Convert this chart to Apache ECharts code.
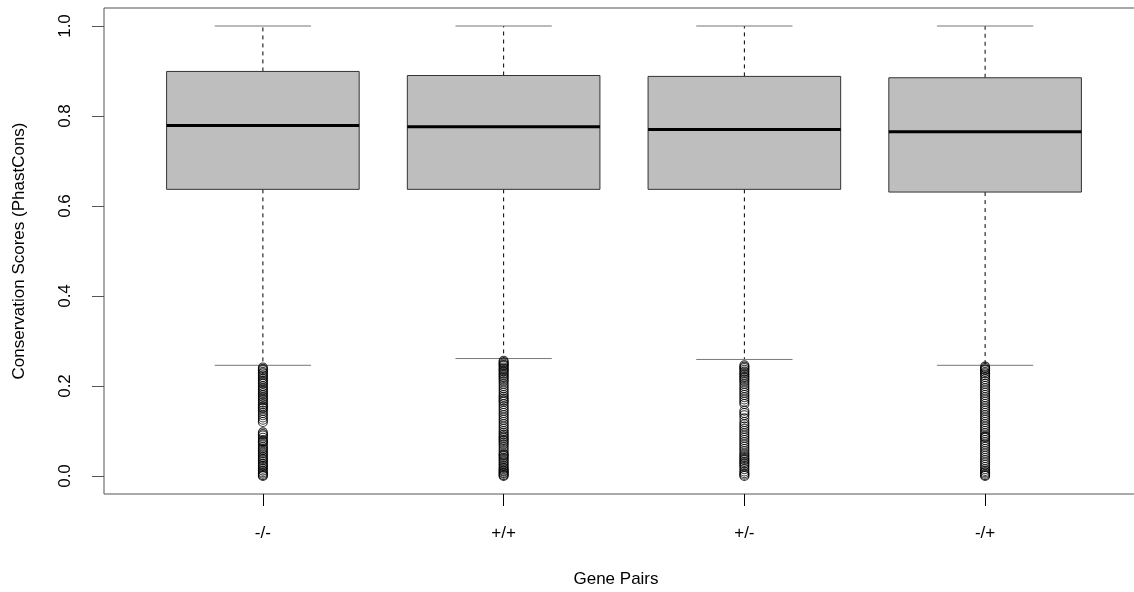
<!DOCTYPE html>
<html>
<head>
<meta charset="utf-8">
<script src="https://cdn.jsdelivr.net/npm/echarts@6/dist/echarts.min.js"></script>
<style>html,body{margin:0;padding:0;background:#fff;overflow:hidden;width:1134px;height:592px}#c{width:1144px;height:592px}</style>
</head>
<body>
<div id="c"></div>
<script>
// ---- data ----
const categories = ['-/-', '+/+', '+/-', '-/+'];
// [lower whisker, Q1, median, Q3, upper whisker]
const stats_mm = [0.246, 0.637, 0.779, 0.899, 1.0];
const stats_pp = [0.261, 0.637, 0.776, 0.890, 1.0];
const stats_pm = [0.259, 0.637, 0.770, 0.888, 1.0];
const stats_mp = [0.246, 0.631, 0.765, 0.885, 1.0];
const outliers_mm = [0.241,0.238,0.235,0.231,0.228,0.224,0.220,0.216,0.212,0.208,0.205,0.200,0.196,0.192,0.188,0.184,0.180,0.176,0.172,0.168,0.163,0.159,0.155,0.152,0.150,0.145,0.140,0.135,0.130,0.125,0.120,0.097,0.093,0.090,0.085,0.080,0.077,0.075,0.070,0.065,0.061,0.058,0.054,0.050,0.046,0.042,0.038,0.035,0.031,0.027,0.023,0.020,0.016,0.012,0.008,0.005,0.002,0.000];
const outliers_pp = [0.256,0.253,0.250,0.247,0.245,0.241,0.238,0.235,0.232,0.228,0.225,0.221,0.218,0.214,0.210,0.205,0.200,0.195,0.190,0.185,0.180,0.176,0.172,0.168,0.165,0.160,0.155,0.150,0.145,0.140,0.135,0.130,0.125,0.120,0.115,0.110,0.105,0.100,0.096,0.092,0.088,0.085,0.081,0.078,0.074,0.070,0.065,0.060,0.055,0.050,0.047,0.045,0.041,0.038,0.034,0.030,0.026,0.022,0.018,0.015,0.012,0.010,0.007,0.005,0.002,0.000];
const outliers_pm = [0.246,0.243,0.240,0.236,0.232,0.229,0.225,0.221,0.218,0.214,0.210,0.205,0.200,0.195,0.190,0.185,0.180,0.175,0.170,0.165,0.160,0.145,0.140,0.135,0.128,0.120,0.115,0.110,0.105,0.100,0.095,0.090,0.085,0.080,0.075,0.070,0.065,0.060,0.055,0.050,0.046,0.042,0.038,0.035,0.031,0.028,0.024,0.020,0.015,0.010,0.006,0.003,0.000];
const outliers_mp = [0.243,0.240,0.237,0.235,0.231,0.228,0.224,0.220,0.215,0.210,0.205,0.200,0.195,0.190,0.185,0.180,0.175,0.170,0.165,0.160,0.155,0.150,0.145,0.140,0.135,0.130,0.125,0.120,0.115,0.110,0.105,0.100,0.095,0.090,0.087,0.085,0.080,0.075,0.070,0.065,0.060,0.055,0.050,0.045,0.040,0.035,0.030,0.025,0.020,0.015,0.011,0.008,0.005,0.002,0.000];
const yTicks = [0, 0.2, 0.4, 0.6, 0.8, 1.0];
const xTicks = [1, 2, 3, 4];

const allStats = [stats_mm, stats_pp, stats_pm, stats_mp];
const allOut = [outliers_mm, outliers_pp, outliers_pm, outliers_mp];
const boxData = allStats.map((s, i) => [i + 1].concat(s));
const outData = [];
allOut.forEach((arr, i) => arr.forEach(v => outData.push([i + 1, v])));

const FONT = '"Liberation Sans", Arial, sans-serif';
const BOX_W = 0.8, CAP_W = 0.4;

const chart = echarts.init(document.getElementById('c'), null, {renderer: 'canvas'});
chart.setOption({
  animation: false,
  backgroundColor: '#fff',
  grid: {left: 104, top: 8, right: 0, bottom: 98, show: true, borderColor: '#555', borderWidth: 1, backgroundColor: 'transparent', containLabel: false, outerBoundsMode: 'none'},
  xAxis: {
    type: 'value', min: 0.34, max: 4.66,
    name: 'Gene Pairs', nameLocation: 'middle', nameGap: 77,
    nameTextStyle: {fontFamily: FONT, fontSize: 17, color: '#000', padding: [0, 16, 0, 0]},
    axisLine: {show: false, onZero: false},
    splitLine: {show: false},
    axisTick: {show: true, customValues: xTicks, length: 12, inside: false, lineStyle: {color: '#000'}},
    axisLabel: {customValues: xTicks, formatter: v => categories[Math.round(v) - 1] || '', margin: 31,
      fontFamily: FONT, fontSize: 17, color: '#000'}
  },
  yAxis: {
    type: 'value', min: -0.04, max: 1.04,
    name: 'Conservation Scores (PhastCons)', nameLocation: 'middle', nameGap: 76,
    nameTextStyle: {fontFamily: FONT, fontSize: 17, color: '#000'},
    axisLine: {show: false, onZero: false},
    splitLine: {show: false},
    axisTick: {show: true, customValues: yTicks, length: 12, lineStyle: {color: '#555'}},
    axisLabel: {customValues: yTicks, formatter: v => v.toFixed(1), rotate: 90, margin: 30,
      fontFamily: FONT, fontSize: 17, color: '#000'}
  },
  series: [
    {
      type: 'custom',
      data: boxData,
      encode: {x: 0, y: [1, 2, 3, 4, 5]},
      renderItem: function (params, api) {
        const x = api.value(0);
        const lo = api.coord([x, api.value(1)]);
        const q1 = api.coord([x, api.value(2)]);
        const md = api.coord([x, api.value(3)]);
        const q3 = api.coord([x, api.value(4)]);
        const hi = api.coord([x, api.value(5)]);
        const bw = api.size([BOX_W, 0])[0];
        const cw = api.size([CAP_W, 0])[0];
        const cx = q1[0];
        const dash = {stroke: '#000', lineWidth: 1, lineDash: [4, 4]};
        return {
          type: 'group',
          children: [
            {type: 'line', shape: {x1: cx, y1: q3[1], x2: cx, y2: hi[1]}, style: dash},
            {type: 'line', shape: {x1: cx, y1: q1[1], x2: cx, y2: lo[1]}, style: dash},
            {type: 'line', shape: {x1: cx - cw / 2, y1: hi[1], x2: cx + cw / 2, y2: hi[1]}, style: {stroke: '#777', lineWidth: 1}},
            {type: 'line', shape: {x1: cx - cw / 2, y1: lo[1], x2: cx + cw / 2, y2: lo[1]}, style: {stroke: '#777', lineWidth: 1}},
            {type: 'rect', shape: {x: cx - bw / 2, y: q3[1], width: bw, height: q1[1] - q3[1]},
              style: {fill: '#bebebe', stroke: '#333', lineWidth: 1}},
            {type: 'line', shape: {x1: cx - bw / 2, y1: md[1], x2: cx + bw / 2, y2: md[1]}, style: {stroke: '#000', lineWidth: 3}}
          ]
        };
      },
      z: 2
    },
    {
      type: 'scatter',
      data: outData,
      symbol: 'circle',
      symbolSize: 9,
      itemStyle: {color: 'rgba(0,0,0,0)', borderColor: '#000', borderWidth: 1.1},
      z: 3
    }
  ]
});
</script>
</body>
</html>
